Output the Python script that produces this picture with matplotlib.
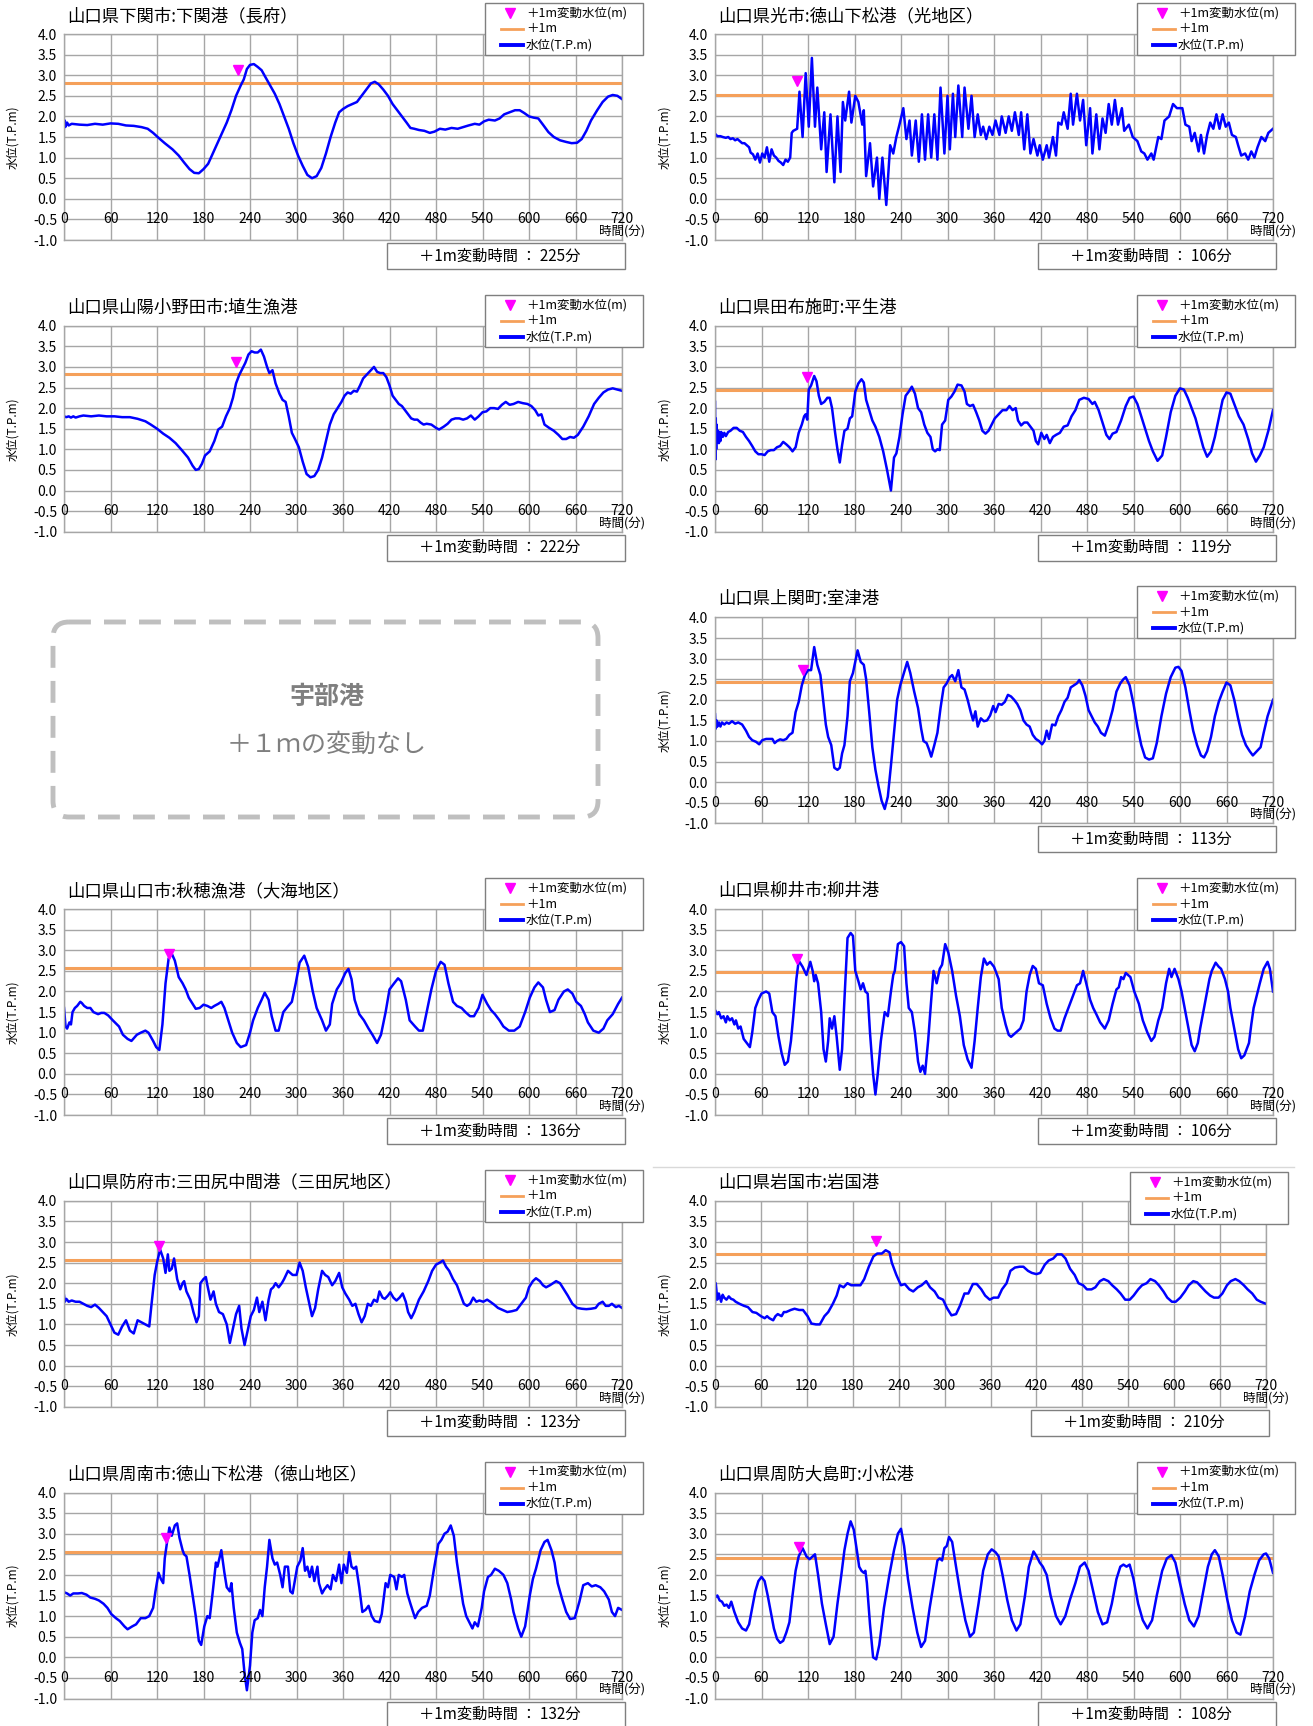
import matplotlib
matplotlib.use("Agg")
import matplotlib.pyplot as plt
from matplotlib.patches import Rectangle, FancyBboxPatch
from matplotlib.lines import Line2D

plt.rcParams["font.family"] = ["Noto Sans CJK JP", "DejaVu Sans"]

# water level readings (minute, T.P.m)
shimonoseki = [(0, 1.72), (1, 1.9), (2, 1.75), (4, 1.85), (6, 1.78), (10, 1.82), (20, 1.8), (30, 1.79), (40, 1.82), (50, 1.8), (60, 1.83), (70, 1.82), (80, 1.78), (90, 1.77), (100, 1.74), (108, 1.7), (115, 1.6), (122, 1.48), (130, 1.35), (140, 1.2), (148, 1.05), (155, 0.88), (162, 0.72), (168, 0.63), (174, 0.62), (180, 0.72), (186, 0.85), (192, 1.1), (198, 1.35), (204, 1.6), (210, 1.85), (216, 2.15), (222, 2.5), (228, 2.75), (232, 2.9), (236, 3.15), (240, 3.25), (245, 3.27), (250, 3.2), (255, 3.12), (260, 2.95), (266, 2.75), (272, 2.55), (278, 2.3), (284, 2.0), (290, 1.7), (296, 1.35), (302, 1.05), (308, 0.8), (314, 0.58), (320, 0.5), (326, 0.55), (332, 0.75), (338, 1.1), (344, 1.5), (350, 1.85), (355, 2.1), (360, 2.18), (366, 2.25), (372, 2.3), (378, 2.35), (384, 2.5), (390, 2.65), (396, 2.8), (401, 2.84), (406, 2.78), (412, 2.65), (418, 2.5), (424, 2.3), (430, 2.15), (436, 2.0), (442, 1.85), (447, 1.72), (452, 1.7), (458, 1.67), (465, 1.65), (472, 1.6), (478, 1.63), (485, 1.7), (492, 1.68), (500, 1.72), (508, 1.7), (515, 1.74), (522, 1.78), (530, 1.82), (536, 1.8), (542, 1.88), (548, 1.92), (556, 1.9), (562, 1.95), (568, 2.05), (575, 2.1), (582, 2.15), (588, 2.15), (594, 2.08), (600, 2.0), (606, 1.97), (612, 1.95), (618, 1.8), (625, 1.62), (632, 1.5), (640, 1.42), (648, 1.38), (655, 1.35), (662, 1.36), (668, 1.45), (674, 1.65), (680, 1.9), (688, 2.15), (695, 2.35), (702, 2.48), (708, 2.52), (714, 2.5), (720, 2.42)]

hikari = [(0, 1.58), (3, 1.52), (7, 1.52), (10, 1.5), (14, 1.48), (17, 1.5), (20, 1.45), (23, 1.47), (26, 1.42), (29, 1.45), (32, 1.4), (35, 1.35), (38, 1.35), (41, 1.3), (44, 1.25), (46, 1.12), (49, 1.08), (52, 0.95), (55, 1.1), (58, 0.88), (61, 1.1), (64, 1.0), (67, 1.25), (70, 0.9), (73, 1.2), (76, 1.05), (79, 1.0), (82, 0.92), (85, 0.88), (88, 0.82), (91, 0.95), (94, 0.9), (97, 1.0), (99, 1.6), (101, 1.65), (106, 1.7), (109, 2.6), (113, 1.5), (117, 3.05), (121, 1.75), (125, 3.42), (129, 1.75), (132, 2.7), (137, 1.2), (141, 2.1), (144, 0.65), (149, 2.05), (154, 0.4), (158, 2.0), (162, 0.65), (165, 2.35), (168, 1.9), (173, 2.6), (176, 1.85), (181, 2.5), (185, 2.35), (190, 1.8), (192, 2.15), (195, 0.55), (200, 1.35), (204, 0.3), (209, 1.0), (212, 0.0), (216, 1.0), (221, -0.15), (226, 1.3), (230, 1.1), (234, 1.5), (238, 1.8), (243, 2.2), (247, 1.45), (251, 1.9), (254, 1.05), (259, 1.9), (263, 0.9), (267, 2.05), (271, 0.95), (275, 2.05), (279, 1.0), (283, 2.05), (287, 0.95), (291, 2.7), (296, 1.1), (300, 2.5), (303, 1.2), (307, 2.55), (310, 1.5), (314, 2.75), (319, 1.5), (322, 2.7), (327, 1.7), (331, 2.5), (335, 1.5), (339, 2.05), (343, 1.55), (346, 1.75), (350, 1.45), (354, 1.75), (358, 1.55), (362, 1.9), (367, 1.55), (370, 2.0), (375, 1.6), (379, 2.0), (383, 1.65), (387, 2.1), (392, 1.55), (395, 2.1), (399, 1.2), (403, 2.05), (407, 1.1), (411, 1.45), (416, 1.05), (419, 1.3), (423, 0.95), (428, 1.3), (431, 1.0), (436, 1.5), (440, 1.05), (443, 1.85), (447, 1.8), (450, 2.1), (455, 1.7), (459, 2.55), (462, 1.8), (467, 2.55), (471, 1.9), (475, 2.4), (479, 1.3), (484, 2.2), (487, 1.1), (492, 2.05), (496, 1.2), (500, 1.95), (504, 1.6), (508, 2.3), (512, 1.8), (516, 2.4), (520, 1.8), (525, 2.2), (528, 1.65), (534, 1.8), (539, 1.5), (545, 1.4), (550, 1.15), (554, 1.1), (558, 0.95), (563, 1.1), (566, 0.95), (572, 1.5), (576, 1.45), (580, 1.9), (586, 2.0), (591, 2.3), (596, 2.2), (603, 2.2), (607, 1.8), (612, 1.75), (615, 1.4), (619, 1.6), (624, 1.15), (627, 1.55), (631, 1.1), (635, 1.55), (639, 1.85), (643, 1.7), (647, 2.05), (651, 1.7), (655, 2.05), (659, 1.75), (663, 1.85), (667, 1.55), (672, 1.5), (675, 1.3), (679, 1.05), (684, 1.1), (688, 0.95), (692, 1.15), (696, 1.0), (700, 1.25), (705, 1.5), (710, 1.4), (714, 1.6), (720, 1.7)]

habu = [(0, 1.8), (3, 1.78), (6, 1.8), (9, 1.77), (12, 1.8), (15, 1.77), (20, 1.8), (25, 1.82), (35, 1.8), (45, 1.82), (55, 1.8), (65, 1.8), (75, 1.78), (85, 1.78), (95, 1.74), (105, 1.68), (112, 1.6), (120, 1.5), (128, 1.38), (136, 1.28), (144, 1.15), (152, 0.98), (160, 0.8), (166, 0.6), (170, 0.5), (174, 0.52), (178, 0.65), (182, 0.85), (188, 0.95), (194, 1.2), (199, 1.48), (204, 1.55), (209, 1.8), (214, 2.0), (218, 2.25), (222, 2.6), (226, 2.8), (230, 2.95), (234, 3.1), (238, 3.3), (242, 3.38), (246, 3.35), (250, 3.35), (254, 3.42), (258, 3.25), (262, 3.0), (265, 2.85), (269, 2.92), (273, 2.6), (278, 2.35), (282, 2.2), (286, 2.15), (290, 1.8), (294, 1.4), (298, 1.25), (303, 1.05), (308, 0.7), (313, 0.4), (318, 0.32), (323, 0.35), (328, 0.5), (333, 0.8), (338, 1.2), (343, 1.6), (348, 1.85), (353, 2.0), (358, 2.15), (362, 2.3), (366, 2.38), (370, 2.35), (374, 2.42), (378, 2.4), (382, 2.55), (386, 2.72), (390, 2.8), (395, 2.9), (400, 3.0), (404, 2.88), (408, 2.85), (412, 2.85), (416, 2.75), (420, 2.55), (424, 2.3), (428, 2.2), (432, 2.1), (436, 2.05), (440, 1.95), (444, 1.85), (448, 1.75), (452, 1.72), (456, 1.72), (460, 1.65), (464, 1.6), (468, 1.62), (474, 1.6), (480, 1.52), (484, 1.48), (490, 1.55), (495, 1.62), (500, 1.72), (505, 1.75), (510, 1.75), (515, 1.72), (520, 1.75), (525, 1.82), (530, 1.72), (535, 1.8), (540, 1.9), (545, 1.92), (550, 2.0), (555, 2.0), (560, 1.98), (565, 2.08), (570, 2.15), (575, 2.08), (580, 2.1), (586, 2.15), (592, 2.12), (598, 2.1), (603, 2.05), (608, 1.95), (612, 1.82), (616, 1.85), (620, 1.6), (626, 1.52), (632, 1.45), (638, 1.35), (643, 1.25), (648, 1.25), (653, 1.3), (658, 1.28), (663, 1.35), (670, 1.55), (677, 1.8), (684, 2.1), (690, 2.25), (696, 2.38), (702, 2.45), (708, 2.48), (714, 2.45), (720, 2.42)]

hirao = [(0, 2.15), (0.5, 0.75), (1, 1.75), (1.5, 1.0), (2, 1.6), (3, 1.2), (4, 1.45), (5, 1.15), (6, 1.4), (7, 1.2), (8, 1.42), (10, 1.3), (12, 1.4), (14, 1.32), (17, 1.42), (20, 1.45), (24, 1.52), (28, 1.52), (32, 1.45), (36, 1.42), (40, 1.3), (44, 1.2), (48, 1.08), (52, 0.95), (56, 0.88), (60, 0.88), (64, 0.86), (68, 0.95), (72, 0.98), (76, 0.98), (80, 1.05), (84, 1.08), (88, 1.18), (92, 1.12), (96, 1.05), (100, 0.95), (104, 1.05), (108, 1.4), (112, 1.6), (115, 1.8), (117, 1.85), (119, 1.72), (121, 2.45), (124, 2.55), (128, 2.78), (131, 2.65), (134, 2.3), (137, 2.1), (141, 2.15), (145, 2.25), (148, 2.25), (151, 2.0), (155, 1.4), (158, 1.0), (161, 0.68), (164, 1.1), (167, 1.45), (171, 1.5), (174, 1.75), (177, 1.8), (181, 2.4), (185, 2.6), (189, 2.7), (192, 2.62), (195, 2.2), (199, 1.95), (203, 1.7), (207, 1.55), (212, 1.3), (217, 0.95), (222, 0.5), (227, 0.0), (231, 0.8), (234, 0.9), (238, 1.3), (242, 1.85), (246, 2.3), (250, 2.4), (254, 2.52), (258, 2.35), (262, 2.0), (266, 1.9), (270, 1.6), (274, 1.4), (278, 1.3), (281, 1.0), (284, 0.95), (287, 1.0), (290, 0.98), (293, 1.6), (297, 1.7), (301, 2.2), (305, 2.28), (309, 2.4), (313, 2.57), (318, 2.55), (322, 2.4), (325, 2.1), (329, 2.05), (333, 2.08), (337, 1.9), (341, 1.7), (345, 1.45), (349, 1.38), (353, 1.45), (357, 1.6), (361, 1.75), (366, 1.85), (371, 1.95), (376, 1.95), (380, 2.05), (384, 1.95), (388, 2.0), (391, 1.7), (395, 1.58), (399, 1.65), (403, 1.65), (407, 1.55), (411, 1.45), (414, 1.2), (417, 1.12), (421, 1.4), (425, 1.25), (428, 1.35), (432, 1.15), (436, 1.3), (440, 1.35), (445, 1.4), (450, 1.55), (455, 1.58), (460, 1.8), (465, 1.95), (470, 2.2), (476, 2.25), (482, 2.22), (487, 2.1), (490, 2.15), (495, 1.95), (500, 1.65), (505, 1.35), (509, 1.25), (513, 1.38), (518, 1.42), (524, 1.7), (530, 2.05), (535, 2.25), (540, 2.28), (545, 2.1), (550, 1.8), (555, 1.5), (560, 1.2), (565, 0.95), (571, 0.72), (577, 0.85), (582, 1.3), (588, 1.9), (594, 2.3), (600, 2.48), (605, 2.45), (610, 2.25), (615, 2.0), (620, 1.75), (625, 1.4), (630, 1.05), (635, 0.82), (640, 0.95), (645, 1.3), (650, 1.75), (655, 2.2), (660, 2.38), (665, 2.35), (670, 2.1), (676, 1.8), (682, 1.6), (688, 1.25), (693, 0.9), (698, 0.7), (703, 0.85), (708, 1.05), (714, 1.45), (720, 1.95)]

murotsu = [(0, 1.65), (1, 1.3), (2, 1.5), (3, 1.35), (5, 1.45), (7, 1.35), (9, 1.45), (12, 1.4), (15, 1.45), (18, 1.42), (22, 1.48), (26, 1.42), (30, 1.45), (35, 1.4), (40, 1.25), (44, 1.1), (48, 1.02), (53, 0.98), (57, 0.92), (61, 1.02), (66, 1.05), (70, 1.05), (74, 1.05), (77, 0.95), (80, 1.0), (84, 1.04), (88, 1.02), (92, 1.05), (96, 1.15), (100, 1.2), (104, 1.7), (108, 1.95), (112, 2.35), (116, 2.6), (120, 2.72), (124, 2.72), (128, 3.28), (132, 2.85), (136, 2.6), (140, 1.9), (143, 1.4), (146, 1.1), (150, 0.9), (154, 0.35), (158, 0.3), (161, 0.35), (164, 0.7), (167, 0.9), (171, 1.6), (174, 2.45), (178, 2.65), (184, 3.2), (188, 2.92), (192, 2.85), (195, 2.5), (199, 1.7), (203, 0.85), (207, 0.3), (211, -0.1), (215, -0.45), (219, -0.65), (223, -0.35), (227, 0.4), (231, 1.2), (235, 2.0), (239, 2.35), (243, 2.6), (248, 2.92), (252, 2.65), (257, 2.2), (262, 1.8), (266, 1.3), (269, 1.0), (273, 0.95), (276, 0.8), (279, 0.62), (283, 0.9), (287, 1.2), (291, 1.8), (295, 2.3), (299, 2.4), (303, 2.55), (306, 2.6), (310, 2.45), (314, 2.72), (318, 2.3), (322, 2.25), (326, 2.0), (330, 1.7), (333, 1.5), (336, 1.72), (339, 1.35), (343, 1.55), (347, 1.48), (351, 1.5), (355, 1.62), (359, 1.85), (362, 1.7), (366, 1.9), (370, 1.88), (374, 1.95), (378, 2.12), (382, 2.08), (386, 2.0), (390, 1.9), (394, 1.75), (398, 1.5), (402, 1.4), (406, 1.35), (410, 1.15), (414, 1.05), (418, 1.0), (422, 0.92), (425, 1.0), (428, 1.25), (431, 1.05), (435, 1.4), (439, 1.38), (443, 1.6), (447, 1.75), (451, 1.95), (455, 2.05), (459, 2.3), (463, 2.35), (467, 2.4), (470, 2.48), (474, 2.35), (478, 2.1), (482, 1.75), (486, 1.6), (490, 1.45), (494, 1.35), (498, 1.2), (503, 1.13), (508, 1.4), (513, 1.75), (518, 2.2), (523, 2.4), (527, 2.5), (530, 2.55), (535, 2.35), (540, 1.9), (545, 1.35), (550, 0.9), (555, 0.6), (560, 0.55), (565, 0.58), (570, 0.95), (576, 1.6), (582, 2.15), (588, 2.55), (594, 2.78), (598, 2.8), (602, 2.7), (607, 2.3), (612, 1.75), (617, 1.25), (622, 0.9), (627, 0.65), (631, 0.6), (635, 0.75), (640, 1.1), (645, 1.6), (650, 1.95), (655, 2.2), (660, 2.42), (665, 2.35), (670, 2.0), (675, 1.55), (680, 1.15), (685, 0.9), (690, 0.75), (694, 0.65), (699, 0.75), (704, 0.85), (708, 1.2), (713, 1.6), (720, 2.0)]

aio = [(0, 1.6), (2, 1.15), (4, 1.1), (7, 1.25), (9, 1.2), (11, 1.5), (14, 1.6), (17, 1.65), (21, 1.75), (23, 1.72), (26, 1.65), (30, 1.6), (34, 1.6), (38, 1.5), (44, 1.45), (48, 1.48), (52, 1.48), (57, 1.42), (63, 1.3), (71, 1.15), (76, 0.95), (82, 0.85), (87, 0.8), (94, 0.95), (99, 1.0), (105, 1.05), (109, 1.0), (115, 0.8), (119, 0.65), (123, 0.58), (127, 1.2), (131, 2.2), (135, 2.8), (139, 2.92), (143, 2.75), (148, 2.35), (153, 2.2), (157, 2.05), (161, 1.85), (166, 1.7), (170, 1.58), (175, 1.6), (180, 1.68), (185, 1.65), (190, 1.6), (194, 1.65), (199, 1.7), (203, 1.75), (207, 1.6), (212, 1.3), (217, 1.0), (223, 0.75), (228, 0.65), (235, 0.7), (240, 1.0), (244, 1.3), (250, 1.6), (255, 1.8), (259, 1.97), (264, 1.8), (268, 1.4), (273, 1.05), (277, 1.05), (283, 1.5), (288, 1.62), (294, 1.75), (299, 2.2), (304, 2.7), (310, 2.87), (315, 2.6), (321, 2.0), (326, 1.6), (333, 1.3), (338, 1.05), (343, 1.2), (346, 1.7), (352, 2.05), (357, 2.2), (363, 2.45), (367, 2.55), (371, 2.3), (375, 1.8), (381, 1.45), (387, 1.3), (393, 1.1), (398, 0.95), (404, 0.75), (409, 0.95), (415, 1.5), (420, 2.05), (426, 2.2), (431, 2.32), (435, 2.25), (441, 1.8), (446, 1.3), (453, 1.15), (458, 1.05), (463, 1.05), (468, 1.5), (474, 2.05), (480, 2.5), (486, 2.72), (491, 2.65), (496, 2.2), (502, 1.75), (507, 1.65), (513, 1.6), (518, 1.5), (524, 1.4), (529, 1.4), (535, 1.6), (540, 1.92), (546, 1.7), (551, 1.55), (556, 1.45), (562, 1.3), (567, 1.15), (574, 1.05), (581, 1.05), (588, 1.15), (595, 1.5), (601, 1.85), (607, 2.1), (612, 2.22), (618, 2.1), (622, 1.8), (627, 1.5), (633, 1.55), (638, 1.8), (645, 2.0), (650, 2.05), (656, 1.95), (661, 1.75), (667, 1.65), (672, 1.45), (676, 1.25), (683, 1.05), (690, 1.0), (696, 1.1), (701, 1.3), (708, 1.45), (715, 1.7), (720, 1.85)]

yanai = [(0, 1.55), (3, 1.45), (5, 1.5), (8, 1.35), (11, 1.4), (14, 1.25), (16, 1.4), (19, 1.3), (22, 1.35), (25, 1.2), (27, 1.3), (30, 1.1), (33, 1.15), (37, 0.85), (41, 0.75), (45, 0.65), (48, 1.0), (52, 1.6), (56, 1.8), (60, 1.95), (66, 2.0), (70, 1.95), (74, 1.5), (78, 1.4), (82, 0.9), (86, 0.5), (90, 0.22), (94, 0.3), (98, 0.8), (101, 1.4), (105, 2.3), (108, 2.75), (113, 2.6), (118, 2.4), (123, 2.72), (126, 2.5), (128, 2.25), (130, 2.4), (133, 2.2), (137, 1.5), (140, 0.6), (143, 0.3), (146, 0.8), (148, 1.35), (151, 1.1), (154, 1.4), (157, 0.9), (161, 0.1), (164, 0.6), (167, 1.8), (171, 3.3), (175, 3.42), (178, 3.35), (181, 2.5), (185, 2.25), (188, 2.05), (191, 2.2), (194, 2.0), (197, 1.95), (200, 1.0), (204, 0.0), (207, -0.5), (210, 0.0), (214, 0.8), (219, 1.5), (223, 1.4), (227, 2.0), (230, 2.4), (232, 2.5), (236, 3.15), (240, 3.2), (244, 3.1), (247, 2.2), (250, 1.6), (254, 1.5), (258, 1.0), (262, 0.3), (265, 0.05), (268, 0.2), (271, 0.0), (275, 0.8), (279, 1.8), (282, 2.5), (286, 2.2), (290, 2.55), (293, 2.65), (297, 3.15), (301, 2.95), (306, 2.5), (311, 1.9), (316, 1.4), (321, 0.7), (326, 0.35), (331, 0.15), (335, 0.8), (339, 1.6), (343, 2.35), (347, 2.8), (351, 2.65), (355, 2.72), (360, 2.6), (366, 2.3), (370, 1.6), (375, 1.2), (379, 0.95), (382, 0.9), (388, 1.0), (394, 1.1), (398, 1.3), (402, 2.0), (406, 2.4), (410, 2.62), (414, 2.55), (418, 2.2), (423, 2.15), (428, 1.7), (433, 1.35), (438, 1.1), (442, 1.05), (446, 1.05), (451, 1.35), (457, 1.65), (462, 1.9), (467, 2.15), (471, 2.2), (475, 2.5), (479, 2.2), (484, 1.8), (488, 1.6), (492, 1.45), (497, 1.25), (503, 1.1), (508, 1.3), (513, 1.7), (518, 2.05), (521, 2.1), (524, 2.35), (527, 2.3), (530, 2.45), (536, 2.35), (541, 2.0), (547, 1.7), (552, 1.3), (558, 1.0), (563, 0.8), (567, 0.9), (572, 1.3), (577, 1.6), (582, 2.2), (586, 2.55), (589, 2.35), (593, 2.55), (598, 2.3), (602, 2.0), (606, 1.6), (610, 1.2), (615, 0.7), (619, 0.55), (623, 0.75), (626, 1.1), (630, 1.5), (634, 1.9), (638, 2.3), (641, 2.5), (646, 2.7), (650, 2.6), (653, 2.55), (658, 2.3), (662, 2.0), (665, 1.6), (668, 1.3), (672, 0.9), (675, 0.6), (679, 0.38), (683, 0.45), (686, 0.6), (689, 0.75), (692, 1.2), (695, 1.6), (699, 1.9), (703, 2.2), (708, 2.55), (713, 2.72), (716, 2.55), (720, 2.0)]

hofu = [(0, 1.7), (1, 1.55), (3, 1.62), (6, 1.55), (10, 1.58), (15, 1.55), (20, 1.55), (25, 1.5), (30, 1.45), (35, 1.42), (40, 1.48), (45, 1.4), (50, 1.3), (55, 1.2), (60, 1.0), (65, 0.8), (70, 0.75), (75, 0.95), (80, 1.1), (85, 0.85), (90, 0.78), (95, 1.1), (100, 1.05), (105, 1.0), (110, 0.95), (113, 1.5), (117, 2.2), (120, 2.5), (124, 2.82), (128, 2.6), (131, 2.25), (134, 2.7), (136, 2.3), (139, 2.35), (142, 2.6), (146, 2.1), (150, 1.85), (153, 2.0), (155, 2.05), (158, 1.8), (163, 1.6), (167, 1.3), (171, 1.05), (174, 1.2), (176, 2.0), (180, 2.1), (183, 2.15), (185, 1.95), (189, 1.6), (193, 1.8), (196, 1.5), (200, 1.3), (205, 1.25), (210, 1.0), (214, 0.55), (218, 0.9), (222, 1.25), (226, 1.45), (229, 0.9), (233, 0.5), (237, 0.85), (241, 1.2), (245, 1.35), (249, 1.65), (252, 1.3), (256, 1.55), (260, 1.1), (264, 1.6), (267, 1.85), (270, 1.9), (273, 2.0), (277, 1.9), (281, 2.0), (284, 2.1), (289, 2.3), (292, 2.25), (295, 2.2), (300, 2.2), (304, 2.5), (308, 2.3), (312, 1.9), (316, 1.55), (320, 1.2), (324, 1.4), (328, 1.85), (333, 2.3), (337, 2.2), (341, 2.15), (346, 1.95), (350, 2.05), (355, 2.25), (359, 1.9), (363, 1.75), (368, 1.6), (372, 1.45), (376, 1.5), (380, 1.25), (384, 1.05), (388, 1.2), (392, 1.5), (396, 1.45), (400, 1.6), (404, 1.55), (407, 1.8), (411, 1.65), (414, 1.62), (418, 1.7), (421, 1.78), (425, 1.65), (429, 1.58), (433, 1.65), (437, 1.75), (441, 1.55), (444, 1.3), (448, 1.15), (452, 1.3), (458, 1.6), (464, 1.8), (470, 2.05), (475, 2.3), (480, 2.45), (485, 2.5), (489, 2.55), (493, 2.4), (497, 2.3), (502, 2.1), (507, 1.95), (512, 1.7), (516, 1.5), (520, 1.45), (524, 1.5), (528, 1.65), (532, 1.55), (536, 1.58), (541, 1.55), (546, 1.6), (550, 1.55), (555, 1.48), (560, 1.4), (566, 1.35), (572, 1.3), (578, 1.32), (584, 1.35), (590, 1.5), (596, 1.65), (600, 1.9), (605, 2.05), (609, 2.12), (614, 2.05), (618, 1.95), (622, 1.9), (627, 1.95), (631, 2.0), (635, 2.05), (640, 2.0), (645, 1.85), (650, 1.7), (656, 1.5), (662, 1.4), (668, 1.38), (674, 1.37), (680, 1.38), (686, 1.4), (690, 1.5), (695, 1.55), (699, 1.45), (703, 1.45), (707, 1.5), (712, 1.42), (716, 1.45), (720, 1.4)]

iwakuni = [(0, 1.55), (1, 2.0), (3, 1.6), (5, 1.75), (8, 1.55), (10, 1.72), (12, 1.65), (15, 1.6), (18, 1.68), (21, 1.62), (24, 1.6), (27, 1.55), (32, 1.5), (38, 1.45), (43, 1.42), (49, 1.3), (54, 1.28), (60, 1.2), (65, 1.15), (68, 1.2), (71, 1.15), (76, 1.1), (79, 1.2), (82, 1.25), (87, 1.2), (90, 1.3), (93, 1.3), (99, 1.35), (104, 1.38), (110, 1.35), (115, 1.35), (121, 1.2), (126, 1.02), (132, 1.0), (137, 1.0), (143, 1.2), (148, 1.3), (154, 1.5), (159, 1.7), (163, 1.95), (168, 1.9), (173, 2.0), (178, 1.95), (183, 1.95), (190, 1.95), (195, 2.1), (201, 2.4), (207, 2.65), (212, 2.72), (218, 2.72), (223, 2.8), (228, 2.75), (231, 2.5), (237, 2.2), (243, 1.95), (248, 1.98), (254, 1.85), (259, 1.8), (265, 1.9), (270, 1.95), (276, 2.05), (281, 1.9), (287, 1.8), (292, 1.65), (298, 1.6), (303, 1.4), (309, 1.22), (315, 1.25), (320, 1.45), (326, 1.75), (331, 1.75), (337, 1.98), (342, 1.98), (348, 1.85), (353, 1.7), (359, 1.6), (364, 1.65), (370, 1.65), (375, 1.85), (381, 2.0), (386, 2.3), (392, 2.38), (398, 2.4), (403, 2.4), (409, 2.3), (414, 2.25), (420, 2.22), (425, 2.25), (431, 2.45), (436, 2.55), (442, 2.6), (447, 2.7), (453, 2.7), (458, 2.6), (464, 2.35), (470, 2.2), (475, 2.0), (481, 1.95), (486, 1.85), (492, 1.85), (497, 1.9), (503, 2.05), (508, 2.1), (514, 2.05), (519, 1.95), (525, 1.85), (530, 1.75), (536, 1.6), (542, 1.6), (547, 1.7), (553, 1.85), (558, 1.95), (564, 2.0), (569, 2.1), (575, 2.05), (580, 1.95), (586, 1.8), (591, 1.65), (597, 1.55), (602, 1.55), (608, 1.65), (614, 1.8), (619, 1.95), (625, 2.05), (630, 2.02), (636, 1.9), (641, 1.8), (647, 1.7), (652, 1.65), (658, 1.65), (663, 1.75), (669, 1.95), (674, 2.05), (680, 2.1), (685, 2.05), (691, 1.95), (696, 1.85), (702, 1.75), (708, 1.6), (713, 1.55), (720, 1.5)]

shunan = [(0, 1.58), (4, 1.55), (8, 1.5), (12, 1.55), (18, 1.55), (23, 1.56), (29, 1.52), (34, 1.45), (40, 1.42), (45, 1.38), (51, 1.3), (56, 1.2), (61, 1.05), (67, 0.95), (72, 0.88), (78, 0.75), (82, 0.68), (88, 0.75), (93, 0.8), (99, 0.95), (105, 0.95), (110, 1.0), (115, 1.2), (118, 1.6), (122, 2.05), (125, 1.9), (128, 1.8), (130, 2.4), (133, 2.8), (136, 3.15), (139, 2.95), (143, 3.2), (146, 3.25), (149, 2.9), (153, 2.6), (155, 2.5), (158, 2.45), (162, 2.0), (166, 1.5), (170, 1.0), (174, 0.4), (177, 0.3), (181, 0.75), (185, 1.0), (188, 0.95), (192, 1.6), (196, 2.3), (198, 2.2), (203, 2.6), (207, 2.05), (210, 1.7), (214, 1.6), (216, 1.8), (219, 1.2), (223, 0.6), (227, 0.35), (230, 0.2), (233, -0.4), (236, -0.8), (240, -0.2), (243, 0.6), (246, 0.9), (250, 0.95), (253, 1.15), (256, 1.0), (259, 1.7), (262, 2.2), (265, 2.85), (269, 2.4), (272, 2.25), (275, 2.3), (279, 2.0), (282, 1.7), (285, 2.2), (289, 2.2), (292, 1.6), (295, 1.55), (301, 2.2), (305, 2.35), (308, 2.65), (311, 2.1), (314, 2.2), (317, 1.95), (320, 2.2), (323, 1.85), (327, 2.2), (329, 1.8), (333, 1.55), (336, 1.65), (340, 1.75), (344, 1.65), (347, 2.0), (351, 1.85), (355, 2.25), (358, 1.8), (361, 2.25), (365, 2.05), (368, 2.55), (371, 2.2), (374, 2.15), (377, 2.2), (381, 1.7), (385, 1.1), (389, 1.15), (393, 1.25), (397, 1.0), (401, 0.88), (407, 0.85), (410, 1.05), (415, 1.8), (418, 1.7), (421, 2.0), (426, 1.95), (429, 1.65), (432, 2.0), (436, 1.95), (439, 2.0), (443, 1.55), (447, 1.3), (453, 0.95), (457, 1.1), (462, 1.2), (468, 1.25), (472, 1.5), (477, 2.1), (483, 2.75), (487, 2.85), (491, 3.0), (495, 3.05), (499, 3.2), (503, 2.95), (507, 2.3), (511, 1.8), (515, 1.3), (519, 1.0), (523, 0.85), (527, 0.7), (530, 0.85), (534, 0.75), (539, 1.2), (542, 1.6), (547, 1.95), (551, 2.0), (556, 2.15), (561, 2.1), (567, 2.0), (572, 1.8), (577, 1.4), (580, 1.1), (586, 0.7), (590, 0.5), (595, 0.75), (601, 1.5), (605, 1.9), (609, 2.15), (615, 2.6), (620, 2.8), (624, 2.85), (629, 2.6), (633, 2.3), (637, 1.8), (643, 1.4), (648, 1.1), (653, 0.93), (659, 0.95), (665, 1.35), (670, 1.75), (676, 1.8), (681, 1.72), (686, 1.75), (692, 1.7), (697, 1.6), (703, 1.4), (707, 1.1), (711, 1.0), (715, 1.2), (720, 1.15)]

oshima = [(0, 1.45), (3, 1.5), (6, 1.38), (9, 1.35), (12, 1.25), (15, 1.28), (18, 1.2), (21, 1.35), (25, 1.1), (30, 0.85), (35, 0.7), (40, 0.65), (44, 0.8), (48, 1.2), (52, 1.6), (56, 1.85), (60, 1.95), (64, 1.85), (68, 1.5), (72, 1.1), (76, 0.7), (80, 0.45), (84, 0.35), (88, 0.4), (92, 0.6), (96, 0.85), (100, 1.5), (104, 2.1), (108, 2.45), (113, 2.65), (118, 2.45), (122, 2.38), (126, 2.45), (129, 2.5), (133, 2.0), (138, 1.3), (143, 0.8), (148, 0.32), (153, 0.5), (158, 1.3), (163, 2.0), (167, 2.6), (171, 3.0), (175, 3.3), (179, 3.1), (183, 2.6), (186, 2.2), (189, 2.1), (192, 2.05), (194, 2.1), (196, 1.8), (200, 0.8), (204, 0.0), (208, -0.05), (212, 0.3), (218, 1.2), (225, 2.0), (231, 2.6), (236, 3.0), (240, 3.12), (244, 2.7), (249, 1.9), (255, 1.2), (261, 0.6), (266, 0.25), (271, 0.4), (277, 1.2), (283, 1.9), (287, 2.35), (290, 2.4), (293, 2.35), (296, 2.65), (299, 2.7), (302, 2.92), (306, 2.8), (311, 2.2), (317, 1.5), (323, 0.9), (329, 0.5), (334, 0.6), (340, 1.3), (346, 2.1), (352, 2.5), (357, 2.62), (362, 2.55), (366, 2.45), (371, 2.0), (377, 1.4), (383, 0.9), (389, 0.65), (394, 0.8), (400, 1.5), (405, 2.2), (411, 2.57), (415, 2.45), (419, 2.3), (423, 2.2), (428, 2.0), (433, 1.5), (440, 1.0), (446, 0.8), (452, 1.0), (458, 1.4), (465, 1.8), (471, 2.2), (477, 2.3), (482, 2.1), (488, 1.6), (494, 1.1), (500, 0.8), (506, 0.85), (512, 1.3), (518, 1.9), (523, 2.2), (527, 2.25), (531, 2.2), (535, 2.25), (540, 1.9), (546, 1.3), (552, 0.9), (558, 0.7), (564, 0.9), (570, 1.5), (577, 2.1), (583, 2.4), (589, 2.48), (594, 2.3), (600, 1.8), (606, 1.3), (612, 0.9), (618, 0.75), (624, 1.0), (630, 1.6), (636, 2.2), (641, 2.5), (645, 2.6), (650, 2.45), (655, 2.0), (661, 1.4), (667, 0.9), (673, 0.6), (678, 0.55), (684, 1.0), (690, 1.6), (696, 2.0), (702, 2.35), (708, 2.5), (711, 2.52), (715, 2.4), (720, 2.05)]

# per-station labels and constants, same order everywhere
titles = ["山口県下関市:下関港（長府）", "山口県光市:徳山下松港（光地区）",
          "山口県山陽小野田市:埴生漁港", "山口県田布施町:平生港",
          "山口県上関町:室津港",
          "山口県山口市:秋穂漁港（大海地区）", "山口県柳井市:柳井港",
          "山口県防府市:三田尻中間港（三田尻地区）", "山口県岩国市:岩国港",
          "山口県周南市:徳山下松港（徳山地区）", "山口県周防大島町:小松港"]
series = [shimonoseki, hikari, habu, hirao, murotsu, aio, yanai, hofu, iwakuni, shunan, oshima]
plus1m_level = [2.80, 2.52, 2.82, 2.45, 2.42, 2.58, 2.47, 2.57, 2.70, 2.56, 2.40]
mark_time = [225, 106, 222, 119, 113, 136, 106, 123, 210, 132, 108]
mark_level = [3.12, 2.85, 3.12, 2.75, 2.72, 2.90, 2.78, 2.90, 3.02, 2.90, 2.68]
duration_min = [225, 106, 222, 119, 113, 136, 106, 123, 210, 132, 108]
grid_pos = [(0, 0), (1, 0), (0, 1), (1, 1), (1, 2), (0, 3), (1, 3), (0, 4), (1, 4), (0, 5), (1, 5)]

x_ticks = list(range(0, 721, 60))
y_ticks = [-1.0, -0.5, 0.0, 0.5, 1.0, 1.5, 2.0, 2.5, 3.0, 3.5, 4.0]

BLUE = "#0000FF"
ORANGE = "#F5A05A"
MAGENTA = "#FF00FF"
GRID = "#A6A6A6"
EDGE = "#7F7F7F"

W, H = 1313, 1726
ROW = 291.7

fig = plt.figure(figsize=(W / 100, H / 100), dpi=100)

# overlay in pixel coords for titles, legends and boxes
ov = fig.add_axes([0, 0, 1, 1], zorder=10)
ov.set_xlim(0, W)
ov.set_ylim(H, 0)
ov.axis("off")


def draw_panel(i):
    col, row = grid_pos[i]
    trim = 7 if i == 8 else 0  # Iwakuni chart is a little narrower
    x0 = 64 if col == 0 else 715
    x1 = (622 if col == 0 else 1273) - trim
    dy = row * ROW
    top, bot = 34 + dy, 240 + dy

    ax = fig.add_axes([x0 / W, 1 - bot / H, (x1 - x0) / W, (bot - top) / H])
    ax.set_xlim(0, 720)
    ax.set_ylim(-1, 4)
    ax.set_xticks(x_ticks)
    ax.set_yticks(y_ticks)
    ax.set_xticklabels([])
    ax.set_yticklabels([f"{v:.1f}" for v in y_ticks], fontsize=10)
    ax.tick_params(length=0, pad=5)
    ax.grid(True, color=GRID, lw=1.0)
    ax.set_axisbelow(True)
    for s in ax.spines.values():
        s.set_color(GRID)
        s.set_linewidth(1.0)

    t, h = zip(*series[i])
    ax.axhline(plus1m_level[i], color=ORANGE, lw=2.2)
    ax.plot(t, h, color=BLUE, lw=1.8)
    ax.plot([mark_time[i]], [mark_level[i]], "v", color=MAGENTA, ms=6.5, mec=MAGENTA)
    for xt in x_ticks:
        ax.text(xt, -0.5, str(xt), ha="center", va="center", fontsize=10)

    # texts and boxes
    ov.text(x0 + 3, 16 + dy, titles[i], fontsize=12.5, va="center", ha="left")
    ov.text(13 if col == 0 else 665, 137 + dy, "水位(T.P.m)", rotation=90,
            ha="center", va="center", fontsize=8.5)
    ov.text(x1, 231 + dy, "時間(分)", ha="center", va="center", fontsize=9)

    lx = (485 if col == 0 else 1137) - (7 if i == 8 else 0)
    ly = 3 + dy + (2 if i == 8 else 0)
    ov.add_patch(Rectangle((lx, ly), 158, 52, fc="white", ec=EDGE, lw=1.0, zorder=2))
    ov.add_line(Line2D([lx + 25], [ly + 10], marker="v", color=MAGENTA, ms=7, ls="none", zorder=3))
    ov.add_line(Line2D([lx + 16, lx + 38], [ly + 26, ly + 26], color=ORANGE, lw=2, zorder=3))
    ov.add_line(Line2D([lx + 16, lx + 38], [ly + 42, ly + 42], color=BLUE, lw=2.8, zorder=3))
    ov.text(lx + 41, ly + 10, "＋1m変動水位(m)", fontsize=9, va="center", zorder=3)
    ov.text(lx + 41, ly + 26, "＋1m", fontsize=9, va="center", zorder=3)
    ov.text(lx + 41, ly + 42, "水位(T.P.m)", fontsize=9, va="center", zorder=3)

    bx = x1 - 235
    ov.add_patch(Rectangle((bx, 243 + dy), 238, 26, fc="white", ec=EDGE, lw=1.0, zorder=2))
    ov.text(bx + 113, 256 + dy, f"＋1m変動時間 ： {duration_min[i]}分",
            fontsize=11, ha="center", va="center", zorder=3)


for i in range(len(series)):
    draw_panel(i)

# Ube port: no +1m change
ov.add_patch(FancyBboxPatch((53, 622), 545, 195,
                            boxstyle="round,pad=0,rounding_size=16",
                            fill=False, ec="#BFBFBF", lw=3.5, ls=(0, (4.5, 2.7))))
ov.text(327, 697, "宇部港", fontsize=18, fontweight="bold", color="#7F7F7F",
        ha="center", va="center")
ov.text(327, 745, "＋１ｍの変動なし", fontsize=18, color="#7F7F7F",
        ha="center", va="center")

# thin separator above the Iwakuni chart
ov.add_line(Line2D([653, 1294], [1167, 1167], color="#D9D9D9", lw=1.0))

fig.savefig("out.png", dpi=100)
